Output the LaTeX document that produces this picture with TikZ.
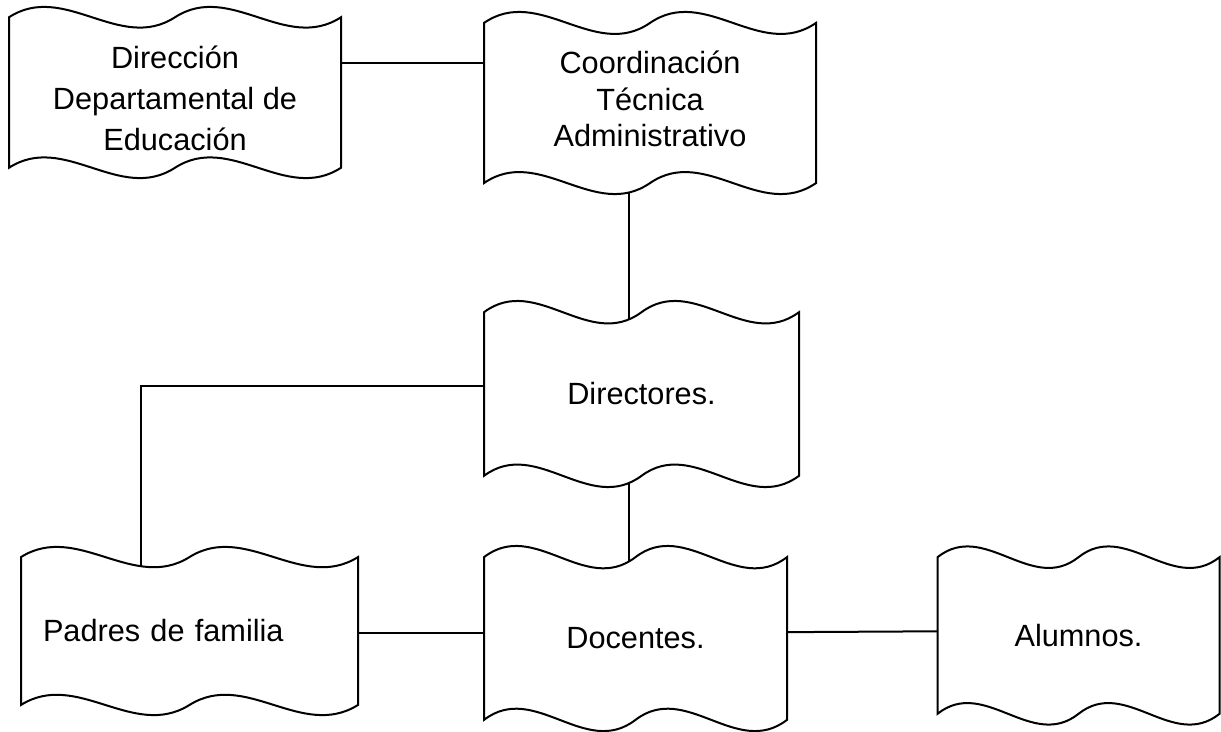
\documentclass[tikz,border=0pt]{standalone}
\usepackage{fontspec}
\setmainfont{Liberation Sans}
\usetikzlibrary{backgrounds}

\newdimen\wvL \newdimen\wvR \newdimen\wvT \newdimen\wvB
\newdimen\wvS \newdimen\wvD
\makeatletter
\pgfdeclareshape{doublewave}{%
  \inheritsavedanchors[from=rectangle]
  \inheritanchorborder[from=rectangle]
  \inheritanchor[from=rectangle]{center}
  \inheritanchor[from=rectangle]{mid}
  \inheritanchor[from=rectangle]{base}
  \inheritanchor[from=rectangle]{north}
  \inheritanchor[from=rectangle]{south}
  \inheritanchor[from=rectangle]{east}
  \inheritanchor[from=rectangle]{west}
  \inheritanchor[from=rectangle]{north east}
  \inheritanchor[from=rectangle]{north west}
  \inheritanchor[from=rectangle]{south east}
  \inheritanchor[from=rectangle]{south west}
  \backgroundpath{%
    \southwest \wvL=\pgf@x \wvB=\pgf@y
    \northeast \wvR=\pgf@x \wvT=\pgf@y
    \wvS=\wvR \advance\wvS by -\wvL \divide\wvS by 6
    \wvD=\wvT \advance\wvD by -\wvB
    \advance\wvT by -0.0625\wvD
    \advance\wvB by 0.0625\wvD
    \wvD=0.2083\wvD
    % top edge, two waves
    \pgfpathmoveto{\pgfpoint{\wvL}{\wvT}}%
    \pgfpathcurveto{\pgfpoint{\wvL+\wvS}{\wvT+\wvD}}{\pgfpoint{\wvL+2*\wvS}{\wvT-\wvD}}{\pgfpoint{\wvL+3*\wvS}{\wvT}}%
    \pgfpathcurveto{\pgfpoint{\wvL+4*\wvS}{\wvT+\wvD}}{\pgfpoint{\wvL+5*\wvS}{\wvT-\wvD}}{\pgfpoint{\wvR}{\wvT}}%
    \pgfpathlineto{\pgfpoint{\wvR}{\wvB}}%
    % bottom edge, same waves backwards
    \pgfpathcurveto{\pgfpoint{\wvL+5*\wvS}{\wvB-\wvD}}{\pgfpoint{\wvL+4*\wvS}{\wvB+\wvD}}{\pgfpoint{\wvL+3*\wvS}{\wvB}}%
    \pgfpathcurveto{\pgfpoint{\wvL+2*\wvS}{\wvB-\wvD}}{\pgfpoint{\wvL+\wvS}{\wvB+\wvD}}{\pgfpoint{\wvL}{\wvB}}%
    \pgfpathclose
  }%
}
\makeatother

\tikzset{%
  wavebox/.style = {shape=doublewave, draw, fill=white,%
                    line width=2pt, align=center},%
  link/.style    = {line width=2pt}%
}

\begin{document}
\begin{tikzpicture}
  [x=1pt,y=-1pt,
  every node/.style = {font=\fontsize{30.7}{36.6}\selectfont}]
  \useasboundingbox (0,0) rectangle (1221,731);
  \node [wavebox, minimum width=330pt, minimum height=170pt, text height=116pt,
    font=\fontsize{30.7}{41}\selectfont] (dir) at (175,92.5)
    {Dirección\\Departamental de\\Educación};
  \node [wavebox, minimum width=330pt, minimum height=181pt, text depth=8pt]
    (coord) at (650,103) {Coordinación\\Técnica\\Administrativo};
  \node [wavebox, minimum width=313pt, minimum height=185pt] (dirs) at (641.5,394)
    {Directores.};
  \node [wavebox, align=left, inner xsep=21pt, text width=293pt,
    minimum height=167pt] (padres) at (189.5,631) {Padres de familia};
  \node [wavebox, minimum width=301pt, minimum height=184pt] (doc) at (635.5,638.5)
    {Docentes.};
  \node [wavebox, minimum width=280pt, minimum height=177pt] (alum) at (1078.5,635.5)
    {Alumnos.};
  % connectors run behind the filled boxes
  \begin{scope}[on background layer]
    \draw [link] ([yshift=29.5pt]dir.center) -- ([yshift=40pt]coord.center);
    \draw [link] ([xshift=-21pt]coord.center) -- ([xshift=-6.5pt]doc.center);
    \draw [link] ([yshift=8pt]dirs.center) -| ([xshift=-48.5pt]padres.center);
    \draw [link] ([yshift=-2pt]padres.center) -- ([yshift=5.5pt]doc.center);
    \draw [link] ([yshift=5.5pt]doc.center) -- ([yshift=5pt]alum.center);
  \end{scope}
\end{tikzpicture}
\end{document}
